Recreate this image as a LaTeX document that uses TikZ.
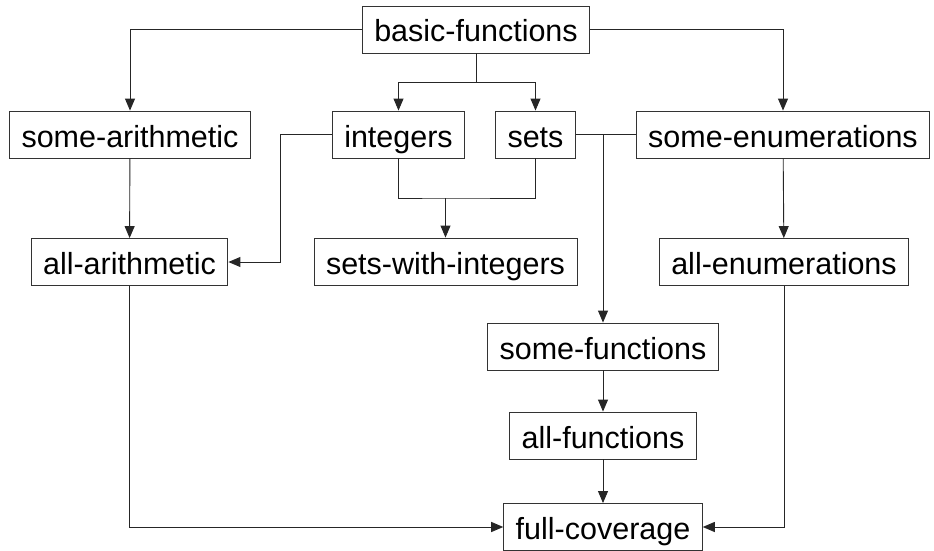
\documentclass[tikz,border=0pt]{standalone}
\usepackage{fontspec}
\setmainfont{Liberation Sans}
\usetikzlibrary{arrows.meta}

\tikzstyle{module} = [draw=black!80, line width=0.9pt, fill=white, inner xsep=12pt, inner ysep=0pt,
  minimum height=47pt, text height=25pt, text depth=0pt, font=\fontsize{30.5}{34}\selectfont]
\tikzstyle{dep} = [line width=0.9pt, draw=black!85, -{Triangle[length=12pt,width=10pt]}]

\begin{document}
\begin{tikzpicture}[x=1pt, y=-1pt]
      \useasboundingbox (0,0) rectangle (934,551);
      \node[module] (basic) at (476,29.5) {basic-functions};
      \node[module] (arith) at (130,134.5) {some-arithmetic};
      \node[module] (int) at (398.5,134.5) {integers};
      \node[module] (sets) at (535.5,134.5) {sets};
      \node[module] (enum) at (783,134.5) {some-enumerations};
      \node[module] (allarith) at (129.5,262) {all-arithmetic};
      \node[module] (setsint) at (445.5,261.5) {sets-with-integers};
      \node[module] (allenum) at (784,262) {all-enumerations};
      \node[module] (func) at (603,346.5) {some-functions};
      \node[module] (allfunc) at (603,435.5) {all-functions};
      \node[module] (full) at (603,527) {full-coverage};
      \coordinate (fork) at (476,82);
      \coordinate (join) at (445.5,198);
      \coordinate (bend) at (280,134.5);
      \coordinate (split) at (603,134.5);
      \draw[dep] (basic) -| (arith);
      \draw[dep] (basic) -| (enum);
      \draw[dep, -] (basic) -- (fork);
      \draw[dep] (fork) -| (int);
      \draw[dep] (fork) -| (sets);
      \draw[dep] (int) -- (bend) |- (allarith);
      \draw[dep, -] (int) |- (join) -| (sets);
      \draw[dep] (join) -- (setsint);
      \draw[dep, -] (sets) -- (enum);
      \draw[dep] (split) -- (func);
      \draw[dep] (arith) -- (allarith);
      \draw[dep] (enum) -- (allenum);
      \draw[dep] (func) -- (allfunc);
      \draw[dep] (allfunc) -- (full);
      \draw[dep] (allarith) |- (full);
      \draw[dep] (allenum) |- (full);
    \end{tikzpicture}
\end{document}
